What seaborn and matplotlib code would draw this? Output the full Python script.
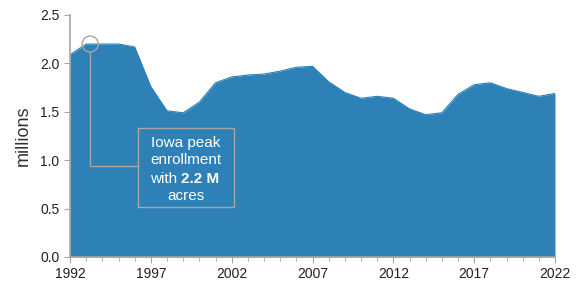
import numpy as np
import pandas as pd
import matplotlib
matplotlib.use('Agg')
import matplotlib.pyplot as plt
import seaborn as sns
from matplotlib.patches import Rectangle, Ellipse
from matplotlib.ticker import MultipleLocator

# ============================================================================
# DATA
# ============================================================================
years = list(range(1992, 2023))
acres = [2.09, 2.20, 2.20, 2.20, 2.17, 1.76, 1.51, 1.49, 1.60, 1.80,
         1.86, 1.88, 1.89, 1.92, 1.96, 1.97, 1.81, 1.70, 1.64, 1.66,
         1.64, 1.53, 1.47, 1.49, 1.68, 1.78, 1.80, 1.74, 1.70, 1.66, 1.69]
xticks = [1992, 1997, 2002, 2007, 2012, 2017, 2022]
yticks = [0.0, 0.5, 1.0, 1.5, 2.0, 2.5]

df = pd.DataFrame({'year': years, 'acres': acres})

# ============================================================================
# PLOT
# ============================================================================
sns.set_style('ticks')
plt.rcParams['font.family'] = ['Liberation Sans', 'DejaVu Sans']

blue = '#2e81b7'
grey = '#a6a6a6'

fig = plt.figure(figsize=(5.86, 2.82), dpi=100)
ax = fig.add_axes([70 / 586, 25 / 282, 485 / 586, 242 / 282])

ax.fill_between(df['year'], 0, df['acres'], color=blue, linewidth=0)
sns.lineplot(data=df, x='year', y='acres', ax=ax, color=blue, linewidth=0.8)

ax.set_xlim(1992, 2022)
ax.set_ylim(0, 2.5)
ax.set_xticks(xticks)
ax.set_xticklabels([str(t) for t in xticks])
ax.xaxis.set_minor_locator(MultipleLocator(1))
ax.set_yticks(yticks)
ax.set_yticklabels([f'{t:.1f}' for t in yticks])
ax.set_xlabel('')
ax.set_ylabel('millions', fontsize=13, color='#333333', labelpad=6)

for side in ['top', 'right']:
    ax.spines[side].set_visible(False)
for side in ['left', 'bottom']:
    ax.spines[side].set_color(grey)
    ax.spines[side].set_linewidth(1.2)
ax.tick_params(axis='both', which='both', color=grey, labelsize=10, labelcolor='#222222')
ax.tick_params(axis='both', which='major', length=4)
ax.tick_params(axis='x', which='minor', length=3)

# annotation: peak circle, leader line and box
peak_x, peak_y = 1993.25, 2.20
ax.add_patch(Ellipse((peak_x, peak_y), 1.0, 0.165, fill=False, edgecolor=grey,
                     linewidth=1.0, zorder=5))
ax.plot([peak_x, peak_x, 1996.2], [peak_y - 0.083, 0.94, 0.94],
        color=grey, linewidth=1.0, zorder=5)
ax.add_patch(Rectangle((1996.2, 0.52), 5.92, 0.81, fill=False, edgecolor=grey,
                       linewidth=1.0, zorder=5))

cx = 1999.16
fs = 11
ax.text(cx, 1.18, 'Iowa peak', color='white', fontsize=fs, ha='center', va='center', zorder=6)
ax.text(cx, 1.00, 'enrollment', color='white', fontsize=fs, ha='center', va='center', zorder=6)
ax.text(1998.6, 0.81, 'with', color='white', fontsize=fs, ha='right', va='center', zorder=6)
ax.text(1998.85, 0.81, '2.2 M', color='white', fontsize=fs, fontweight='bold',
        ha='left', va='center', zorder=6)
ax.text(cx, 0.63, 'acres', color='white', fontsize=fs, ha='center', va='center', zorder=6)

fig.savefig('out.png', dpi=100)
plt.close(fig)
